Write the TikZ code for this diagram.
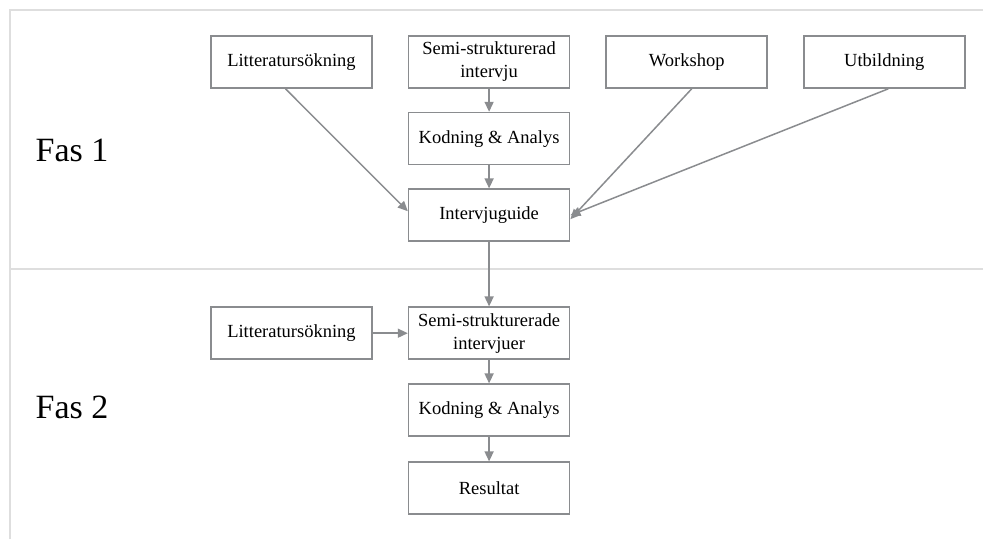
\documentclass[tikz,border=0pt]{standalone}
\usepackage{fontspec}
\setmainfont{Liberation Serif}
\usetikzlibrary{arrows.meta, positioning}
\definecolor{boxgray}{RGB}{138,140,143}
\definecolor{framegray}{RGB}{222,222,222}

\begin{document}
\begin{tikzpicture}[
x=1pt, y=-1pt,
node distance=23pt and 35pt,
box/.style={rectangle, draw=boxgray, line width=1.6pt, align=center, minimum width=161pt, minimum height=52pt, inner sep=0pt, font=\fontsize{18.5}{23}\selectfont},
line/.style={-{Triangle[length=10pt,width=9pt]}, line width=1.5pt, draw=boxgray, fill=boxgray},
frame/.style={draw=framegray, line width=2pt},
phase/.style={font=\fontsize{34}{40}\selectfont}
]
\useasboundingbox (0,0) rectangle (983,539);
\draw[frame] (10,539) -- (10,10) -- (983,10);
\draw[frame] (10,269) -- (983,269);

% Fas 1
\node[phase] (fas1) at (72,150) {Fas 1};
\node[box] (lit1) at (291.5,62) {Litteratursökning};
\node[box, right=of lit1] (semi1) {Semi-strukturerad\\intervju};
\node[box, right=of semi1] (work) {Workshop};
\node[box, right=of work] (utb) {Utbildning};
\node[box, below=of semi1] (kod1) {Kodning \& Analys};
\node[box, below=of kod1] (guide) {Intervjuguide};

% Fas 2
\node[phase] (fas2) at (72,407) {Fas 2};
\node[box, below=64.4pt of guide] (semi2) {Semi-strukturerade\\intervjuer};
\node[box, left=of semi2] (lit2) {Litteratursökning};
\node[box, below=23.4pt of semi2] (kod2) {Kodning \& Analys};
\node[box, below=24.4pt of kod2] (res) {Resultat};

\draw[line] (semi1) -- (kod1);
\draw[line] (kod1) -- (guide);
\draw[line] ([xshift=-6pt]lit1.south) -- ([yshift=4pt]guide.west);
\draw[line] ([xshift=5pt]work.south) -- ([yshift=-4pt]guide.east);
\draw[line] ([xshift=4pt]utb.south) -- (guide.east);
\draw[line] (guide) -- (semi2);
\draw[line] (lit2) -- (semi2);
\draw[line] (semi2) -- (kod2);
\draw[line] (kod2) -- (res);
\end{tikzpicture}
\end{document}
